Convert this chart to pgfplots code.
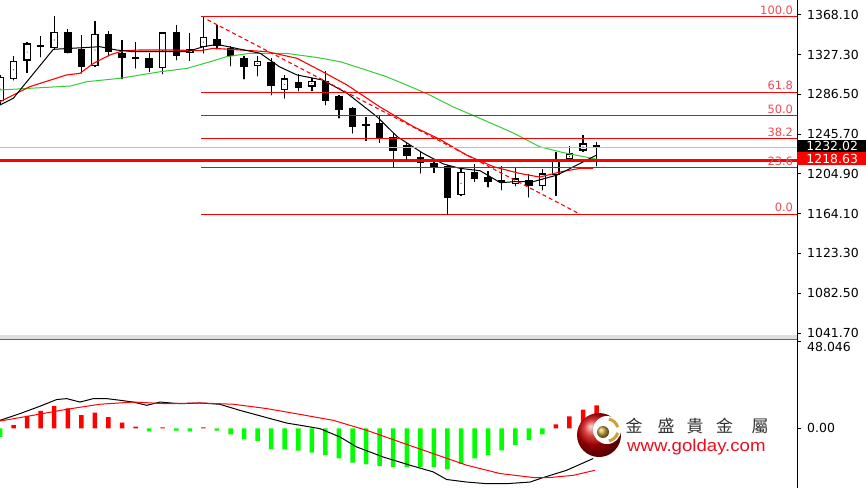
\documentclass[border=0pt]{standalone}
\usepackage{pgfplots}
\pgfplotsset{compat=1.18}
\usepackage{pgfplotstable}
\usepackage{fontspec}
\setmainfont{DejaVu Sans}
\newfontfamily\cjk{Noto Sans CJK TC}
\newfontfamily\urlf{Liberation Sans}
\definecolor{fibtxt}{HTML}{F04850}
\definecolor{magreen}{HTML}{33CC33}
\definecolor{histgreen}{HTML}{00FF00}
\definecolor{goldc}{HTML}{C9A33A}
\definecolor{urlred}{HTML}{E8101E}
\newcommand\axf{\fontsize{12.5}{14}\selectfont}
\newcommand\fibf{\fontsize{11.5}{13}\selectfont}

\pgfplotstableread{
i O H L C
0 1279.6 1306.3 1275.5 1304.2
1 1302.2 1325.7 1301.0 1320.9
2 1320.9 1339.8 1308.6 1338.8
3 1337.0 1346.3 1324.7 1335.5
4 1333.6 1367.1 1332.6 1350.7
5 1350.7 1353.1 1328.5 1329.1
6 1332.6 1347.3 1308.0 1314.8
7 1315.5 1361.9 1314.8 1348.3
8 1348.3 1351.7 1325.7 1330.2
9 1329.1 1342.2 1302.2 1323.4
10 1325.0 1340.4 1313.1 1323.4
11 1323.4 1329.1 1309.6 1313.1
12 1313.1 1350.7 1307.3 1350.0
13 1350.7 1357.5 1321.6 1325.7
14 1328.5 1349.0 1320.9 1332.9
15 1334.7 1366.0 1328.5 1345.5
16 1342.9 1357.5 1332.6 1336.0
17 1333.6 1336.0 1315.5 1325.7
18 1323.4 1325.7 1301.8 1314.2
19 1315.5 1325.7 1305.2 1320.9
20 1319.9 1323.4 1285.7 1295.0
21 1290.9 1306.3 1282.4 1302.9
22 1299.4 1307.3 1289.8 1292.6
23 1294.3 1302.9 1290.2 1300.4
24 1300.4 1310.7 1275.5 1279.9
25 1284.7 1285.7 1261.8 1270.4
26 1272.1 1273.7 1246.5 1252.6
27 1255.5 1263.5 1238.9 1254.5
28 1256.7 1264.2 1236.8 1241.3
29 1243.0 1246.5 1211.6 1228.6
30 1234.5 1236.2 1219.8 1223.2
31 1222.5 1227.6 1205.4 1216.3
32 1215.7 1218.4 1206.1 1211.6
33 1212.9 1213.9 1163.4 1179.8
34 1183.2 1209.5 1182.5 1207.1
35 1207.1 1215.0 1196.8 1199.3
36 1202.0 1208.1 1191.1 1196.8
37 1198.1 1212.9 1188.3 1197.0
38 1194.5 1211.6 1192.4 1200.3
39 1198.6 1204.7 1180.8 1192.4
40 1192.4 1209.5 1188.3 1205.4
41 1203.7 1227.6 1182.5 1218.4
42 1219.8 1233.4 1219.1 1226.0
43 1228.6 1244.7 1227.6 1236.2
44 1234.5 1237.8 1212.9 1232.02
}\candles

\begin{document}
\begin{tikzpicture}
\useasboundingbox (0,0) rectangle (866bp,-488bp);
% ---------------- price panel ----------------
\begin{axis}[
  at={(0,0)}, anchor=north west,
  scale only axis, width=797bp, height=335bp,
  xmin=0, xmax=58.78, ymin=1039.6, ymax=1383.2,
  clip=false,
  axis x line*=bottom, axis y line*=right,
  x axis line style={draw=gray!80!black, line width=1bp},
  y axis line style={draw=black, line width=1bp},
  xtick=\empty,
  ytick={1041.70,1082.50,1123.30,1164.10,1204.90,1245.70,1286.50,1327.30,1368.10},
  yticklabels={1041.70,1082.50,1123.30,1164.10,1204.90,1245.70,1286.50,1327.30,1368.10},
  tick align=outside, major tick length=4bp,
  ytick style={black, line width=0.8bp},
  yticklabel style={font=\axf, anchor=west, inner sep=0pt, xshift=6bp},
  candle/.style={only marks, mark=*, mark size=0.1pt, mark options={draw=none, fill=none}, forget plot},
]
% wicks
\addplot[candle,
  error bars/.cd, y dir=plus, y explicit, error mark=none,
  error bar style={black, line width=1.3bp}]
  table[x=i, y=L, y error expr={\thisrow{H}-\thisrow{L}}] {\candles};
% bodies (outline)
\addplot[candle,
  error bars/.cd, y dir=both, y explicit, error mark=none,
  error bar style={black, line width=7.5bp}]
  table[x=i, y expr={(\thisrow{O}+\thisrow{C})/2},
        y error expr={max(abs(\thisrow{O}-\thisrow{C})/2,0.7)}] {\candles};
% bullish inner fill
\addplot[candle,
  error bars/.cd, y dir=both, y explicit, error mark=none,
  error bar style={white, line width=5.0bp}]
  table[x=i, y expr={(\thisrow{O}+\thisrow{C})/2},
        y error expr={\thisrow{C}>\thisrow{O} ? max((\thisrow{C}-\thisrow{O})/2-1.3,0) : 0}] {\candles};

% moving averages
\addplot[magreen, line width=1bp] coordinates {(0,1290.9) (5.2,1295.0) (6.4,1299.4) (8.85,1302.9) (11.8,1309.6) (13.8,1313.1) (15.5,1319.9) (16.7,1325.0) (18.4,1328.5) (21.1,1328.5) (23.4,1324.2) (25.1,1319.9) (27.0,1311.4) (28.5,1304.5) (30.0,1296.0) (31.7,1285.7) (33.4,1273.7) (35.4,1261.8) (37.9,1246.5) (39.8,1232.7) (41.5,1226.8) (43.3,1221.8) (44.0,1219.8)};
\addplot[red, line width=1.1bp] coordinates {(0,1278.9) (2.2,1294.3) (4.9,1306.3) (5.9,1308.0) (6.9,1318.3) (8.1,1326.8) (9.1,1331.2) (10.3,1331.9) (12.8,1331.9) (14.75,1331.2) (15.7,1333.6) (17.0,1332.6) (19.7,1330.2) (21.9,1323.4) (23.8,1309.6) (25.6,1296.0) (28.0,1273.7) (30.5,1253.2) (32.4,1240.6) (34.4,1224.2) (36.4,1212.2) (38.3,1205.4) (39.8,1201.6) (41.3,1206.8) (42.8,1210.6) (43.75,1210.6)};
\addplot[black, line width=1bp] coordinates {(0,1275.5) (0.98,1282.4) (3.93,1332.6) (7.37,1335.3) (8.6,1331.9) (9.8,1330.2) (12.3,1330.2) (13.8,1330.2) (15.0,1335.3) (16.0,1337.7) (19.2,1328.5) (20.6,1314.8) (21.9,1306.3) (23.8,1301.1) (25.6,1287.5) (27.8,1263.5) (29.3,1243.0) (31.2,1226.0) (32.7,1215.0) (33.9,1210.6) (35.4,1208.1) (36.9,1195.8) (37.9,1196.8) (39.3,1196.8) (41.1,1203.7) (42.8,1215.7) (44.0,1224.2)};
% trend line
\addplot[red, line width=1.1bp, dash pattern=on 4bp off 3bp] coordinates {(15.3,1363.0) (42.8,1163.4)};

% price lines
\addplot[gray!50, line width=1bp] coordinates {(0,1232.02) (58.78,1232.02)};
\addplot[red, line width=2.2bp] coordinates {(0,1218.63) (58.78,1218.63)};
% fibonacci levels
\addplot[red, line width=1.1bp] coordinates {(14.85,1366.0) (58.78,1366.0)};
\addplot[red, line width=1.1bp] coordinates {(14.85,1288.6) (58.78,1288.6)};
\addplot[red, line width=1.1bp] coordinates {(14.85,1264.7) (58.78,1264.7)};
\addplot[red, line width=1.1bp] coordinates {(14.85,1240.8) (58.78,1240.8)};
\addplot[red, line width=1.1bp] coordinates {(14.85,1211.2) (58.78,1211.2)};
\addplot[red, line width=1.1bp] coordinates {(14.85,1163.4) (58.78,1163.4)};

\foreach \lv/\tx in {1366.0/100.0, 1288.6/61.8, 1264.7/50.0, 1240.8/38.2, 1211.2/23.6, 1163.4/0.0}{
  \edef\temp{\noexpand\node[anchor=base east, text=fibtxt, font=\noexpand\fibf, inner sep=0pt, yshift=2.5bp] at (axis cs:58.5,\lv) {\tx};}
  \temp
}
\node[anchor=north west, fill=black, text=white, font=\axf, inner xsep=5bp, inner ysep=0pt,
  minimum height=11.7bp, minimum width=70bp] at (axis cs:58.78,1239.6) {1232.02};
\node[anchor=north west, fill=red, text=white, font=\axf, inner xsep=5bp, inner ysep=0pt,
  minimum height=13.3bp, minimum width=70bp] at (axis cs:58.78,1227.6) {1218.63};
\end{axis}

% panel splitter
\fill[gray!25] (0,-335bp) rectangle (797bp,-339.5bp);
\draw[gray!80!black, line width=1bp] (0,-339.5bp) -- (797bp,-339.5bp);
\draw[black, line width=1bp] (797bp,-334bp) -- (797bp,-341bp);

% ---------------- MACD panel ----------------
\begin{axis}[
  at={(0,-340bp)}, anchor=north west,
  scale only axis, width=797bp, height=148bp,
  xmin=0, xmax=58.78, ymin=-33, ymax=48.8,
  axis x line*=top, axis y line*=right,
  x axis line style={draw=none},
  y axis line style={draw=black, line width=1bp},
  xtick=\empty,
  ytick={0}, yticklabels={0.00},
  extra y ticks={48.046}, extra y tick labels={48.046},
  extra y tick style={yticklabel style={anchor=north west, yshift=-1bp}},
  tick align=outside, major tick length=4bp,
  ytick style={black, line width=0.8bp},
  yticklabel style={font=\axf, anchor=west, inner sep=0pt, xshift=6bp},
]
\addplot[ybar, bar width=4.5bp, bar shift=0pt, fill=red, draw=none] coordinates {(1,1.8) (2,6.8) (3,9.6) (4,12.3) (5,11.0) (6,7.3) (7,8.7) (8,6.2) (9,3.1) (10,0.9) (12,0.5) (15,0.5) (41,2.2) (42,6.6) (43,10.3) (44,12.7)};
\addplot[ybar, bar width=4.5bp, bar shift=0pt, fill=histgreen, draw=none] coordinates {(0,-4.8) (11,-1.7) (13,-1.3) (14,-1.7) (16,-1.3) (17,-3.3) (18,-6.1) (19,-7.0) (20,-11.6) (21,-11.6) (22,-12.4) (23,-13.5) (24,-14.8) (25,-16.6) (26,-19.0) (27,-19.9) (28,-20.8) (29,-21.4) (30,-21.4) (31,-21.4) (32,-21.4) (33,-22.7) (34,-19.6) (35,-16.6) (36,-14.8) (37,-12.2) (38,-9.2) (39,-6.6) (40,-3.3)};
\addplot[black, line width=1bp] coordinates {(0,4.4) (1.47,8.1) (2.95,12.2) (4.18,15.9) (4.92,16.4) (5.9,14.5) (6.88,16.4) (7.87,16.4) (8.85,15.5) (9.83,14.5) (10.82,12.7) (11.8,14.5) (13.27,13.6) (14.75,14.0) (16.2,13.3) (17.7,9.9) (19.67,5.9) (21.14,2.9) (22.12,1.7) (23.6,-0.2) (25.07,-4.8) (26.3,-10.3) (28.27,-15.9) (30.24,-20.4) (31.95,-24.1) (32.94,-28.3) (34.42,-29.7) (35.89,-30.6) (37.37,-30.6) (39.09,-29.7) (40.07,-27.2) (41.79,-23.2) (43.75,-16.7)};
\addplot[red, line width=1bp] coordinates {(0,4.0) (2.46,7.2) (4.92,10.5) (7.37,13.3) (9.83,14.5) (12.29,13.6) (14.75,14.0) (17.2,13.3) (19.67,10.9) (22.12,7.7) (24.58,4.4) (27.04,-1.1) (29.5,-7.6) (31.95,-14.0) (34.42,-20.4) (36.87,-25.0) (39.33,-27.2) (40.56,-27.2) (42.28,-26.0) (43.88,-23.2)};
\end{axis}

% ---------------- logo ----------------
\shade[ball color=red!80!black] (599bp,-435bp) circle (22bp);
\fill[white] (607bp,-430bp) circle (14bp);
\draw[goldc, line width=3bp] (607bp,-430bp) ++(15:11bp) arc[start angle=15, end angle=80, radius=11bp];
\draw[goldc, line width=3bp] (607bp,-430bp) ++(-80:11bp) arc[start angle=-80, end angle=-15, radius=11bp];
\shade[ball color=goldc] (603bp,-432bp) circle (6bp);
\foreach \cx/\ch in {634/金, 666/盛, 695/貴, 724.5/金, 760/屬}{
  \node[text=black!80, font=\cjk\fontsize{17}{19}\selectfont, inner sep=0pt] at (\cx bp,-426bp) {\ch};
}
\node[anchor=base west, text=urlred, inner sep=0pt] at (627bp,-451bp)
  {\scalebox{1.1}[1]{\urlf\fontsize{17}{19}\selectfont www.golday.com}};
\end{tikzpicture}
\end{document}
